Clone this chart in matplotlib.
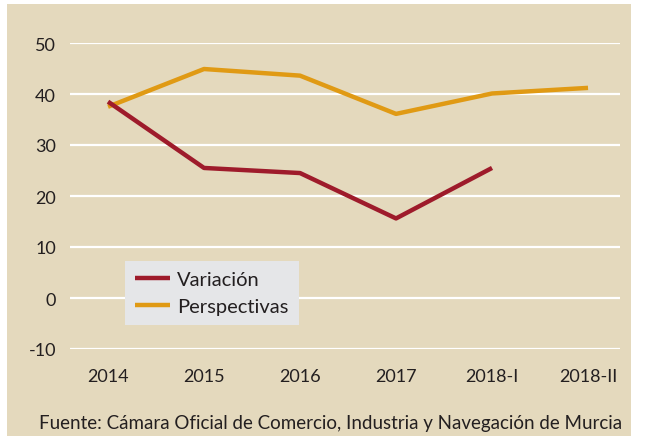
import matplotlib
matplotlib.use("Agg")
import matplotlib.pyplot as plt
from matplotlib.patches import Rectangle

categories = ["2014", "2015", "2016", "2017", "2018-I", "2018-II"]
variacion = [38.5, 25.5, 24.5, 15.6, 25.5]
perspectivas = [37.5, 44.9, 43.6, 36.1, 40.1, 41.2]
yticks = [-10, 0, 10, 20, 30, 40, 50]

plt.rcParams['font.family'] = ['Lato', 'DejaVu Sans']

W, H = 645, 439
fig = plt.figure(figsize=(W/100, H/100), dpi=100)
fig.patch.set_facecolor('white')
bg = '#E4D9BD'
fig.patches.append(Rectangle((7/W, 2/H), 624/W, 432/H, transform=fig.transFigure,
                             facecolor=bg, edgecolor='none', zorder=-5))

ax = fig.add_axes([70/W, (H-350)/H, 550/W, 306/H])
ax.set_zorder(2)
ax.set_facecolor('none')
for s in ax.spines.values():
    s.set_visible(False)
ax.set_xlim(-0.396, 5.333)
ax.set_ylim(-10, 50)
ax.set_yticks(yticks)
ax.set_yticklabels([str(v) for v in yticks])
ax.set_xticks(range(len(categories)))
ax.set_xticklabels(categories)
ax.tick_params(axis='both', length=0, labelsize=13, colors='#231f20')
ax.tick_params(axis='y', pad=10)
ax.tick_params(axis='x', pad=14)
ax.grid(axis='y', color='white', linewidth=1.6, zorder=1)
ax.grid(axis='x', visible=False)

ax.plot(range(len(variacion)), variacion, color='#9E1B2B', linewidth=3.2,
        label='Variación', zorder=3, clip_on=False, solid_capstyle='butt')
ax.plot(range(len(perspectivas)), perspectivas, color='#E09A14', linewidth=3.2,
        label='Perspectivas', zorder=2, clip_on=False, solid_capstyle='butt')

leg = ax.legend(loc='upper left', bbox_to_anchor=((125-70)/550, (350-262)/306),
                frameon=True, fancybox=False, fontsize=14.5, handlelength=1.75,
                handletextpad=0.35, borderpad=0.5, labelspacing=0.5,
                borderaxespad=0)
leg.get_frame().set_facecolor('#E5E6E8')
leg.get_frame().set_edgecolor('none')
leg.get_frame().set_alpha(1)
for t in leg.get_texts():
    t.set_color('#231f20')

fig.text(331/W, 1 - 424/H, 'Fuente: Cámara Oficial de Comercio, Industria y Navegación de Murcia',
         ha='center', va='center', fontsize=13.5, color='#231f20')

fig.savefig('out.png', dpi=100, facecolor='white')
